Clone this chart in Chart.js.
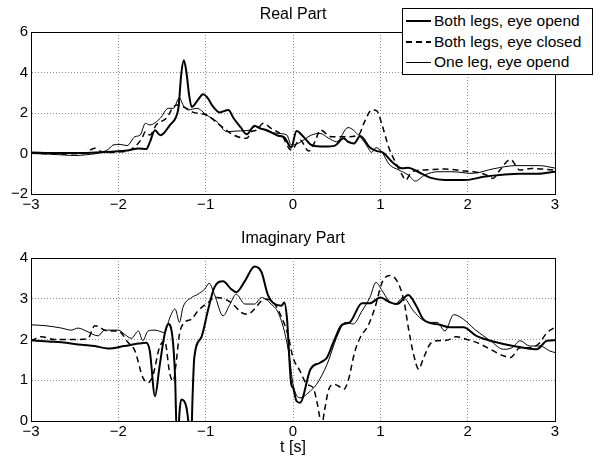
<!DOCTYPE html>
<html>
<head>
<meta charset="utf-8">
<script src="https://cdn.jsdelivr.net/npm/chart.js@4/dist/chart.umd.min.js"></script>
<style>
  body { margin: 0; background: #fff; }
  #wrap { position: relative; width: 602px; height: 457px; overflow: hidden; font-family: "Liberation Sans", Arial, sans-serif; }
  #real-box { position: absolute; left: 0; top: 0; width: 602px; height: 228px; }
  #imag-box { position: absolute; left: 0; top: 228px; width: 602px; height: 229px; }
  .legend { position: absolute; left: 402px; top: 8px; width: 189px; height: 63px; border: 1px solid #000; background: #fff; padding-top: 2px; box-sizing: content-box; }
  .legend .row { display: flex; align-items: center; height: 20.5px; font-size: 15.5px; color: #000; white-space: nowrap; }
  .legend .swatch { width: 25px; margin: 0 3px 0 3px; }
</style>
</head>
<body>
<div id="wrap">
  <div id="real-box"><canvas id="real-chart"></canvas></div>
  <div id="imag-box"><canvas id="imag-chart"></canvas></div>
  <div class="legend" id="legend"></div>
</div>
<script>
// ── Data ────────────────────────────────────────────────────────────────────
const seriesNames = ['Both legs, eye opend', 'Both legs, eye closed', 'One leg, eye opend'];
const xTickValues = [-3, -2, -1, 0, 1, 2, 3];
const realTickValues = [-2, 0, 2, 4, 6];
const imagTickValues = [0, 1, 2, 3, 4];

// Real part
const realOpenT = [-3, -2.7, -2.4, -2.13, -1.95, -1.87, -1.77, -1.68, -1.64, -1.58, -1.52, -1.48, -1.41, -1.34, -1.31, -1.28, -1.25, -1.22, -1.19, -1.16, -1.13, -1.08, -1.03, -0.97, -0.93, -0.84, -0.74, -0.68, -0.6, -0.53, -0.44, -0.38, -0.3, -0.17, -0.1, -0.02, 0.04, 0.12, 0.21, 0.36, 0.48, 0.58, 0.63, 0.7, 0.77, 0.88, 0.96, 1.03, 1.13, 1.25, 1.32, 1.43, 1.57, 1.74, 1.97, 2.2, 2.4, 2.6, 2.8, 3];
const realOpenY = [0.05, 0.02, 0.03, 0.08, 0.12, 0.17, 0.25, 0.22, 0.55, 1.15, 0.9, 1.0, 1.4, 1.8, 2.3, 3.9, 4.6, 4.0, 2.9, 2.3, 2.4, 2.7, 2.92, 2.7, 2.4, 2.03, 2.15, 1.74, 1.3, 0.95, 1.37, 1.24, 1.15, 0.88, 0.8, 0.3, 1.11, 0.83, 0.42, 0.34, 0.39, 0.75, 0.58, 0.5, 0.86, 0.3, 0.12, 0.05, -0.4, -0.73, -0.7, -0.9, -1.19, -1.31, -1.31, -1.14, -1.05, -1.0, -1.0, -0.9];

const realClosedT = [-3, -2.7, -2.4, -2.27, -2.2, -2.1, -2.0, -1.9, -1.81, -1.73, -1.69, -1.64, -1.56, -1.45, -1.37, -1.33, -1.22, -1.14, -0.99, -0.84, -0.68, -0.53, -0.47, -0.42, -0.34, -0.25, -0.13, -0.02, 0.08, 0.18, 0.26, 0.31, 0.44, 0.6, 0.75, 0.82, 0.9, 0.96, 1.02, 1.1, 1.17, 1.25, 1.29, 1.36, 1.51, 1.74, 1.97, 2.07, 2.2, 2.29, 2.37, 2.49, 2.6, 2.73, 3];
const realClosedY = [0.02, -0.02, 0.0, 0.26, 0.1, 0.05, 0.08, 0.12, 0.34, 0.75, 1.08, 0.91, 1.44, 1.74, 2.3, 2.4, 2.23, 2.03, 1.9, 1.41, 0.91, 0.75, 1.1, 1.15, 1.49, 1.24, 0.91, 0.17, 0.67, 0.12, 0.67, 1.16, 0.83, 0.83, 0.91, 1.57, 2.15, 2.1, 1.41, 0.26, -0.4, -1.06, -1.31, -0.9, -0.81, -0.77, -0.86, -0.9, -1.03, -1.23, -0.82, -0.3, -0.82, -0.74, -0.82];

const realOneLegT = [-3, -2.8, -2.6, -2.5, -2.36, -2.2, -2.11, -2.06, -1.98, -1.9, -1.81, -1.75, -1.69, -1.64, -1.52, -1.43, -1.37, -1.3, -1.26, -1.2, -1.1, -0.99, -0.87, -0.76, -0.64, -0.49, -0.43, -0.28, -0.17, -0.07, -0.02, 0.06, 0.21, 0.31, 0.41, 0.5, 0.63, 0.75, 0.84, 0.9, 0.95, 1.02, 1.1, 1.21, 1.32, 1.4, 1.51, 1.66, 1.82, 2.05, 2.3, 2.55, 2.82, 3];
const realOneLegY = [0.0, -0.03, -0.08, -0.1, -0.06, 0.05, 0.22, 0.42, 0.45, 0.39, 0.83, 0.91, 1.49, 1.41, 1.74, 2.23, 2.23, 2.76, 2.4, 2.15, 2.23, 1.9, 1.57, 1.08, 1.11, 1.16, 1.33, 1.08, 0.99, 0.91, 0.42, 0.5, 0.91, 0.99, 0.75, 0.58, 1.28, 0.91, 0.42, 0.06, 0.29, 0.06, -0.53, -0.81, -1.06, -1.36, -1.06, -0.9, -0.9, -0.98, -0.75, -0.6, -0.6, -0.72];

// Imaginary part
const imagOpenT = [-3, -2.8, -2.65, -2.42, -2.27, -2.12, -1.93, -1.77, -1.68, -1.64, -1.58, -1.53, -1.47, -1.43, -1.39, -1.35, -1.33, -1.315, -1.3, -1.28, -1.22, -1.18, -1.165, -1.15, -1.13, -1.05, -0.97, -0.9, -0.8, -0.71, -0.65, -0.55, -0.44, -0.36, -0.29, -0.21, -0.13, -0.1, -0.07, -0.02, 0.0, 0.04, 0.08, 0.2, 0.31, 0.39, 0.47, 0.56, 0.65, 0.79, 0.88, 1.0, 1.11, 1.19, 1.32, 1.42, 1.49, 1.68, 1.8, 1.95, 2.1, 2.26, 2.41, 2.64, 2.79, 2.91, 3];
const imagOpenY = [1.98, 1.95, 1.93, 1.87, 1.84, 1.78, 1.84, 1.9, 1.92, 1.72, 0.61, 1.31, 2.13, 2.38, 2.21, 1.07, -0.4, -0.4, 0.2, 0.53, 0.33, -0.3, -0.4, 0.6, 1.56, 2.05, 2.75, 3.28, 3.43, 3.24, 3.16, 3.44, 3.79, 3.65, 3.11, 2.87, 2.83, 2.91, 2.54, 0.9, 0.82, 0.49, 0.45, 1.27, 1.43, 1.56, 1.97, 2.36, 2.42, 2.89, 2.89, 3.03, 2.91, 2.87, 3.09, 2.79, 2.5, 2.36, 2.3, 2.3, 2.09, 1.97, 1.89, 1.8, 1.76, 1.97, 1.98];

const imagClosedT = [-3, -2.88, -2.73, -2.46, -2.35, -2.27, -2.12, -2.0, -1.89, -1.81, -1.72, -1.66, -1.6, -1.53, -1.47, -1.41, -1.37, -1.34, -1.3, -1.24, -1.16, -1.09, -0.97, -0.9, -0.78, -0.69, -0.59, -0.52, -0.44, -0.36, -0.29, -0.21, -0.13, -0.06, 0.0, 0.08, 0.16, 0.23, 0.28, 0.33, 0.36, 0.41, 0.47, 0.52, 0.58, 0.63, 0.71, 0.77, 0.86, 0.94, 1.02, 1.11, 1.19, 1.27, 1.32, 1.38, 1.44, 1.49, 1.57, 1.65, 1.76, 1.87, 1.99, 2.1, 2.26, 2.41, 2.49, 2.6, 2.71, 2.81, 2.91, 3];
const imagClosedY = [1.97, 2.07, 2.0, 2.0, 2.02, 2.34, 2.21, 2.21, 1.93, 1.72, 1.07, 0.94, 1.15, 1.8, 1.97, 1.15, 0.98, 1.39, 2.13, 2.42, 2.5, 2.7, 2.91, 3.03, 2.99, 2.87, 2.66, 2.62, 2.75, 2.95, 2.99, 2.87, 2.54, 2.13, 1.56, 1.23, 0.9, 0.82, 0.41, -0.1, 0.25, 0.78, 0.9, 0.86, 0.78, 0.98, 1.72, 2.05, 2.34, 2.79, 3.4, 3.57, 3.44, 2.95, 2.3, 1.64, 1.27, 1.52, 1.89, 1.97, 1.98, 2.07, 2.0, 1.93, 1.76, 1.6, 1.56, 1.8, 1.8, 1.89, 2.17, 2.3];

const imagOneLegT = [-3, -2.84, -2.65, -2.54, -2.46, -2.37, -2.23, -2.16, -2.0, -1.93, -1.85, -1.77, -1.72, -1.66, -1.58, -1.47, -1.41, -1.35, -1.3, -1.26, -1.16, -1.09, -1.01, -0.96, -0.9, -0.8, -0.73, -0.65, -0.55, -0.44, -0.36, -0.25, -0.17, -0.1, -0.04, 0.0, 0.08, 0.2, 0.27, 0.39, 0.5, 0.6, 0.69, 0.79, 0.88, 0.95, 1.02, 1.09, 1.17, 1.26, 1.38, 1.47, 1.57, 1.65, 1.74, 1.84, 1.95, 2.08, 2.26, 2.41, 2.51, 2.6, 2.71, 2.83, 2.94, 3];
const imagOneLegY = [2.36, 2.34, 2.28, 2.23, 2.28, 2.21, 2.09, 2.23, 2.23, 2.13, 2.03, 2.21, 1.97, 2.21, 2.23, 2.17, 2.54, 2.75, 2.42, 2.79, 3.03, 3.11, 3.24, 3.38, 3.11, 2.58, 2.83, 3.11, 2.87, 2.87, 3.03, 2.87, 2.66, 2.21, 1.56, 0.9, 0.57, 0.74, 0.9, 1.39, 2.05, 2.42, 2.38, 2.7, 3.03, 3.4, 3.2, 2.97, 2.87, 3.03, 2.7, 2.5, 2.42, 2.42, 2.21, 2.61, 2.5, 2.25, 1.97, 1.76, 1.8, 1.97, 1.84, 1.84, 1.72, 1.68];

// ── Styling ────────────────────────────────────────────────────────────────
const FONT = '"Liberation Sans", Arial, Helvetica, sans-serif';
const lineStyles = [
  { borderWidth: 2,   borderDash: [] },
  { borderWidth: 1.5, borderDash: [6, 4] },
  { borderWidth: 1,   borderDash: [] }
];
const pts = (xs, ys) => xs.map((x, i) => ({ x, y: ys[i] }));
const minus = v => String(v).replace('-', '\u2212');

function makeDatasets(pairs) {
  return pairs.map(([xs, ys], i) => ({
    label: seriesNames[i],
    data: pts(xs, ys),
    borderColor: '#000',
    borderWidth: lineStyles[i].borderWidth,
    borderDash: lineStyles[i].borderDash,
    pointRadius: 0,
    fill: false,
    cubicInterpolationMode: 'monotone'
  }));
}

function makeChart(id, title, titlePad, yMin, yMax, yTicks, xHeight, xTitle) {
  return new Chart(document.getElementById(id), {
    type: 'line',
    data: { datasets: [] },
    options: {
      responsive: true, maintainAspectRatio: false, animation: false,
      layout: { padding: { left: 0, right: 16, top: 0, bottom: 0 } },
      plugins: {
        legend: { display: false },
        tooltip: { enabled: false },
        title: { display: true, text: title, color: '#000', font: { family: FONT, size: 16, weight: 'normal' }, padding: titlePad }
      },
      scales: {
        x: {
          type: 'linear', min: -3, max: 3,
          afterBuildTicks: a => { a.ticks = xTickValues.map(v => ({ value: v })); },
          afterFit: s => { s.height = xHeight; },
          ticks: { color: '#000', font: { family: FONT, size: 15 }, padding: 2, maxRotation: 0, callback: minus },
          grid: { color: '#8c8c8c', drawTicks: false, lineWidth: 1 },
          border: { color: '#000', dash: [1, 2], display: true },
          title: xTitle ? { display: true, text: xTitle, color: '#000', font: { family: FONT, size: 16 }, padding: { top: 0, bottom: 0 } } : { display: false }
        },
        y: {
          type: 'linear', min: yMin, max: yMax,
          afterBuildTicks: a => { a.ticks = yTicks.map(v => ({ value: v })); },
          afterFit: s => { s.width = 31; },
          ticks: { color: '#000', font: { family: FONT, size: 15 }, padding: 3, callback: minus },
          grid: { color: '#8c8c8c', drawTicks: false, lineWidth: 1 },
          border: { color: '#000', dash: [1, 2] }
        },
        x2: {
          position: 'top', display: true,
          afterFit: s => { s.height = 0; },
          ticks: { display: false }, grid: { display: false, drawTicks: false },
          border: { color: '#000' }
        },
        y2: {
          position: 'right', display: true,
          afterFit: s => { s.width = 31; },
          ticks: { display: false }, grid: { display: false, drawTicks: false },
          border: { color: '#000' }
        }
      }
    }
  });
}

const realChart = makeChart('real-chart', 'Real Part', { top: 5.4, bottom: 7.4 }, -2, 6, realTickValues, 34, null);
realChart.data.datasets = makeDatasets([[realOpenT, realOpenY], [realClosedT, realClosedY], [realOneLegT, realOneLegY]]);
realChart.update();

const imagChart = makeChart('imag-chart', 'Imaginary Part', { top: 1.4, bottom: 9.4 }, 0, 4, imagTickValues, 36, 't [s]');
imagChart.data.datasets = makeDatasets([[imagOpenT, imagOpenY], [imagClosedT, imagClosedY], [imagOneLegT, imagOneLegY]]);
imagChart.update();

// ── Legend (matches the MATLAB box in the top-right corner) ─────────────────
document.getElementById('legend').innerHTML = seriesNames.map((name, i) => {
  const st = lineStyles[i];
  const bg = st.borderDash.length
    ? `repeating-linear-gradient(to right, #000 0 ${st.borderDash[0]}px, transparent ${st.borderDash[0]}px ${st.borderDash[0] + st.borderDash[1]}px)`
    : '#000';
  return `<div class="row"><span class="swatch" style="height:${st.borderWidth}px;background:${bg}"></span>${name}</div>`;
}).join('');
</script>
</body>
</html>
